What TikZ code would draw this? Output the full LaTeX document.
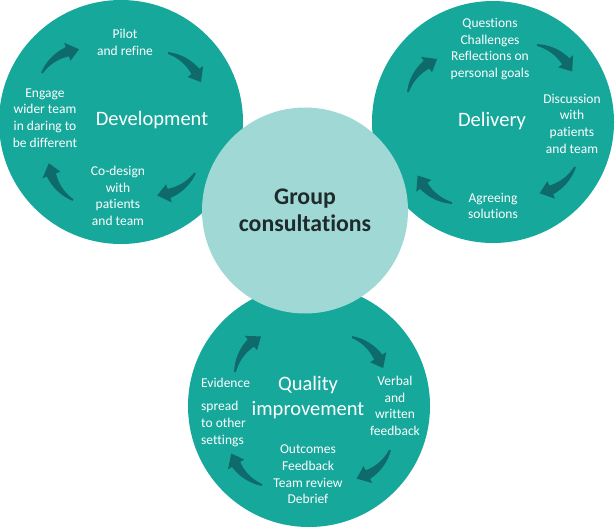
\documentclass[tikz,border=0pt]{standalone}
\usepackage{fontspec}
\setmainfont{Carlito}[Ligatures={NoCommon}]
\definecolor{tealmain}{HTML}{17A89C}
\definecolor{lightc}{HTML}{A0D8D6}
\definecolor{arrowdark}{HTML}{0E6A6B}
\definecolor{ink}{HTML}{1F2A2B}
\newcommand\cwarrow[2]{%
  \begin{scope}[shift={#1}, rotate=#2]
    \fill[arrowdark]
      plot[domain=118:76.7,samples=24]
        ({22+(46.87+0.9+3.9*(118-\x)/41.3)*cos(\x)},{-41.38+(46.87+0.9+3.9*(118-\x)/41.3)*sin(\x)})
      -- ({22+56.37*cos(76.7)},{-41.38+56.37*sin(76.7)})
      -- (44,0)
      -- ({22+37.37*cos(76.7)},{-41.38+37.37*sin(76.7)})
      -- plot[domain=76.7:118,samples=24]
        ({22+(46.87-0.9-3.9*(118-\x)/41.3)*cos(\x)},{-41.38+(46.87-0.9-3.9*(118-\x)/41.3)*sin(\x)})
      -- cycle;
  \end{scope}}
\tikzset{
  bigc/.style={circle, fill=tealmain, inner sep=0pt},
  centerc/.style={circle, fill=lightc, inner sep=0pt, text=ink, align=center,
    font=\fontsize{23.8}{27}\selectfont\bfseries},
  txt/.style={text=white, align=center, inner sep=0pt, font=\fontsize{13.5}{16.7}\selectfont},
  txtl/.style={text=white, align=left, inner sep=0pt, anchor=west, font=\fontsize{13.5}{16.7}\selectfont},
  ttl/.style={text=white, align=center, inner sep=0pt, font=\fontsize{20.5}{25}\selectfont}
}
\begin{document}
\begin{tikzpicture}[x=1pt,y=1pt]
\useasboundingbox (0,0) rectangle (615,-530);
% circles
\node[bigc, minimum size=244pt] (dev) at (121,-122) {};
\node[bigc, minimum size=242pt] (del) at (493,-122) {};
\node[bigc, minimum size=242pt] (qi) at (309,-406) {};
% arrows development
\cwarrow{(168,-53)}{-41.4}
\cwarrow{(195,-173)}{-149.3}
\cwarrow{(73,-200)}{123.3}
\cwarrow{(42,-73)}{32.6}
% arrows delivery
\cwarrow{(537,-45)}{-36.9}
\cwarrow{(575,-167)}{-143.4}
\cwarrow{(452,-203)}{141.3}
\cwarrow{(408,-92)}{48.6}
% arrows quality
\cwarrow{(352,-337)}{-45}
\cwarrow{(390,-450)}{-139.4}
\cwarrow{(262,-485)}{134.2}
\cwarrow{(235,-372)}{53.9}
% centre
\node[centerc, minimum size=206pt] (gc) at (305,-210.5) {Group\\consultations};
% development texts
\node[ttl] (devt) at (152,-120) {Development};
\node[txt] (pilot) at (125,-42.5) {Pilot\\and refine};
\node[txt] (engage) at (45,-118) {Engage\\wider team\\in daring to\\be different};
\node[txt] (codes) at (118,-196) {Co-design\\with\\patients\\and team};
% delivery texts
\node[ttl] (delt) at (492,-121) {Delivery};
\node[txt] (quest) at (490,-49) {Questions\\Challenges\\Reflections on\\personal goals};
\node[txt] (disc) at (572,-123.5) {Discussion\\with\\patients\\and team};
\node[txt] (agree) at (493,-206) {Agreeing\\solutions};
% quality texts
\node[ttl] (qit) at (308,-397.5) {Quality\\improvement};
\node[txtl] (evid) at (201,-383) {Evidence};
\node[txtl] (spread) at (201,-424) {spread\\to other\\settings};
\node[txt] (verbal) at (395,-406) {Verbal\\and\\written\\feedback};
\node[txt] (outc) at (308,-474.5) {Outcomes\\Feedback\\Team review\\Debrief};
\end{tikzpicture}
\end{document}
